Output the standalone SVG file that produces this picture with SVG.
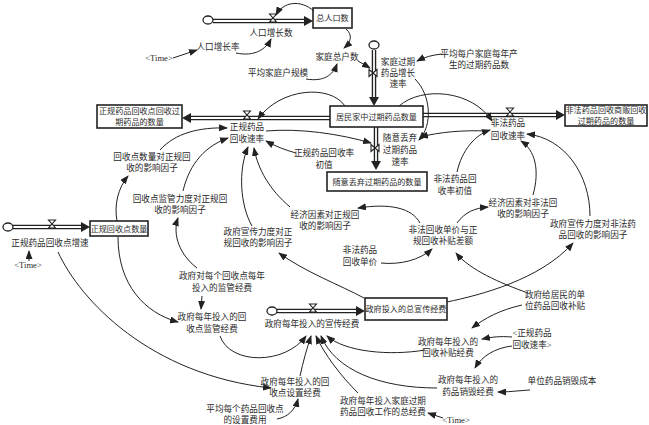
<svg xmlns="http://www.w3.org/2000/svg" width="649" height="425" viewBox="0 0 649 425">
<style>
.t{font-family:"Liberation Serif","Noto Sans CJK SC",serif;font-size:8.6px;text-anchor:middle;fill:#2a2a2a}
.bt{font-size:8.1px}
.box{fill:#fff;stroke:#222;stroke-width:1.6}
.po{fill:none;stroke:#222;stroke-width:4.5}
.pi{fill:none;stroke:#fff;stroke-width:1.8}
.ph{fill:#222}
.valve{fill:#fff;stroke:#222;stroke-width:1.1}
.cloud{fill:#fff;stroke:#222;stroke-width:1.3}
.c{fill:none;stroke:#222;stroke-width:1;marker-end:url(#ah)}
</style>
<defs>
<marker id="ah" markerUnits="userSpaceOnUse" markerWidth="9" markerHeight="7" refX="8" refY="3.5" orient="auto">
<path d="M0,0 L9,3.5 L0,7 z" fill="#222"/>
</marker>
<path id="vh" d="M-3.5,-5 L3.5,-5 L-3.5,3 L3.5,3 Z"/>
<path id="vv" d="M-5,-3.5 L-5,3.5 L3,-3.5 L3,3.5 Z"/>
</defs>
<rect width="649" height="425" fill="#fff"/>

<g id="pipes">
<path class="po" d="M213,21 H306"/><path class="pi" d="M213,21 H306"/>
<polygon class="ph" points="304,16 313,21 304,26"/>
<path class="po" d="M374,50 V99"/><path class="pi" d="M374,50 V99"/>
<polygon class="ph" points="369,97 374,106 379,97"/>
<path class="po" d="M330,118 H189"/><path class="pi" d="M330,118 H189"/>
<polygon class="ph" points="191,113 182,118 191,123"/>
<path class="po" d="M423,115 H558"/><path class="pi" d="M423,115 H558"/>
<polygon class="ph" points="556,110 565,115 556,120"/>
<path class="po" d="M376,127 V163"/><path class="pi" d="M376,127 V163"/>
<polygon class="ph" points="371,161 376,170 381,161"/>
<path class="po" d="M13,227 H83"/><path class="pi" d="M13,227 H83"/>
<polygon class="ph" points="81,222 90,227 81,232"/>
<path class="po" d="M277,311 H358"/><path class="pi" d="M277,311 H358"/>
<polygon class="ph" points="356,306 365,311 356,316"/>
</g>

<g id="clouds">
<ellipse class="cloud" cx="208" cy="20" rx="5" ry="4"/>
<ellipse class="cloud" cx="374" cy="45" rx="5" ry="4"/>
<ellipse class="cloud" cx="8" cy="227" rx="5" ry="4"/>
<ellipse class="cloud" cx="272" cy="311" rx="5" ry="4"/>
</g>

<g id="valves">
<use href="#vh" class="valve" x="273" y="19"/>
<use href="#vv" class="valve" x="374" y="73"/>
<use href="#vh" class="valve" x="247" y="116"/>
<use href="#vh" class="valve" x="510" y="113"/>
<use href="#vv" class="valve" x="376" y="148"/>
<use href="#vh" class="valve" x="52" y="225"/>
<use href="#vh" class="valve" x="313" y="309"/>
</g>

<g id="n-total-pop"><rect class="box" x="313" y="8" width="39" height="20"/><text class="t bt" x="332.5" y="21">总人口数</text></g>
<g id="n-pop-growth"><text class="t" x="271" y="36">人口增长数</text></g>
<g id="n-pop-rate"><text class="t" x="218" y="50">人口增长率</text></g>
<g id="n-time1"><text class="t" x="159" y="61">&lt;Time&gt;</text></g>
<g id="n-households"><text class="t" x="337" y="60">家庭总户数</text></g>
<g id="n-avg-house"><text class="t" x="278" y="76">平均家庭户规模</text></g>
<g id="n-house-rate"><text class="t" x="398" y="65">家庭过期<tspan x="398" dy="11">药品增长</tspan><tspan x="398" dy="11">速率</tspan></text></g>
<g id="n-avg-expired"><text class="t" x="479" y="57">平均每户家庭每年产<tspan x="479" dy="11">生的过期药品数</tspan></text></g>
<g id="n-home-stock"><rect class="box" x="330" y="106" width="93" height="21"/><text class="t bt" x="376.5" y="120">居民家中过期药品数量</text></g>
<g id="n-reg-stock"><rect class="box" x="97" y="105" width="85" height="23"/><text class="t bt" x="139.5" y="114">正规药品回收点回收过<tspan x="139.5" dy="11">期药品的数量</tspan></text></g>
<g id="n-ill-stock"><rect class="box" x="565" y="105" width="82" height="21"/><text class="t bt" x="606" y="113">非法药品回收商贩回收<tspan x="606" dy="11">过期药品的数量</tspan></text></g>
<g id="n-reg-rate"><text class="t" x="247" y="130">正规药品<tspan x="247" dy="12">回收速率</tspan></text></g>
<g id="n-ill-rate"><text class="t" x="508" y="126">非法药品<tspan x="508" dy="13">回收速率</tspan></text></g>
<g id="n-discard-rate"><text class="t" x="400" y="141">随意丢弃<tspan x="400" dy="12">过期药品</tspan><tspan x="400" dy="12">速率</tspan></text></g>
<g id="n-discard-stock"><rect class="box" x="327" y="172" width="100" height="19"/><text class="t bt" x="377" y="184.5">随意丢弃过期药品的数量</text></g>
<g id="n-reg-init"><text class="t" x="324" y="156">正规药品回收率<tspan x="324" dy="12">初值</tspan></text></g>
<g id="n-ill-init"><text class="t" x="455" y="182">非法药品回<tspan x="455" dy="12">收率初值</tspan></text></g>
<g id="n-pt-factor"><text class="t" x="152" y="160">回收点数量对正规回<tspan x="152" dy="11">收的影响因子</tspan></text></g>
<g id="n-points"><rect class="box" x="90" y="221" width="58" height="15"/><text class="t bt" x="119" y="231.5">正规回收点数量</text></g>
<g id="n-pt-growth"><text class="t" x="50" y="246">正规药品回收点增速</text></g>
<g id="n-time2"><text class="t" x="28" y="268">&lt;Time&gt;</text></g>
<g id="n-sup-factor"><text class="t" x="180" y="202">回收点监管力度对正规回<tspan x="180" dy="11">收的影响因子</tspan></text></g>
<g id="n-prop-reg"><text class="t" x="258" y="235">政府宣传力度对正<tspan x="258" dy="11">规回收的影响因子</tspan></text></g>
<g id="n-eco-reg"><text class="t" x="325" y="218">经济因素对正规回<tspan x="325" dy="11">收的影响因子</tspan></text></g>
<g id="n-diff"><text class="t" x="443" y="233">非法回收单价与正<tspan x="443" dy="11">规回收补贴差额</tspan></text></g>
<g id="n-eco-ill"><text class="t" x="523" y="206">经济因素对非法回<tspan x="523" dy="11">收的影响因子</tspan></text></g>
<g id="n-prop-ill"><text class="t" x="593" y="227">政府宣传力度对非法药<tspan x="593" dy="11">品回收的影响因子</tspan></text></g>
<g id="n-ill-price"><text class="t" x="360" y="253">非法药品<tspan x="360" dy="12">回收单价</tspan></text></g>
<g id="n-sup-per"><text class="t" x="222" y="279">政府对每个回收点每年<tspan x="222" dy="12">投入的监管经费</tspan></text></g>
<g id="n-sup-fund"><text class="t" x="212" y="320">政府每年投入的回<tspan x="212" dy="12">收点监管经费</tspan></text></g>
<g id="n-prop-stock"><rect class="box" x="365" y="298" width="82" height="22"/><text class="t bt" x="406" y="312">政府投入的总宣传经费</text></g>
<g id="n-prop-flow"><text class="t" x="312" y="327">政府每年投入的宣传经费</text></g>
<g id="n-subsidy-unit"><text class="t" x="555" y="298">政府给居民的单<tspan x="555" dy="11">位药品回收补贴</tspan></text></g>
<g id="n-subsidy-fund"><text class="t" x="448" y="345">政府每年投入的<tspan x="448" dy="11">回收补贴经费</tspan></text></g>
<g id="n-reg-rate-shadow"><text class="t" x="532" y="336">&lt;正规药品<tspan x="532" dy="12">回收速率&gt;</tspan></text></g>
<g id="n-destroy-fund"><text class="t" x="468" y="383">政府每年投入的<tspan x="468" dy="12">药品销毁经费</tspan></text></g>
<g id="n-destroy-cost"><text class="t" x="562" y="384">单位药品销毁成本</text></g>
<g id="n-setup-fund"><text class="t" x="295" y="385">政府每年投入的回<tspan x="295" dy="11">收点设置经费</tspan></text></g>
<g id="n-setup-cost"><text class="t" x="245" y="412">平均每个药品回收点<tspan x="245" dy="11">的设置费用</tspan></text></g>
<g id="n-total-fund"><text class="t" x="383" y="404">政府每年投入家庭过期<tspan x="383" dy="11">药品回收工作的总经费</tspan></text></g>
<g id="n-time3"><text class="t" x="456" y="423">&lt;Time&gt;</text></g>

<g id="connectors">
<path class="c" d="M173,58 L197,50"/>
<path class="c" d="M236,53 C255,57 266,49 271,39"/>
<path class="c" d="M314,11 C300,-1 283,2 276,15"/>
<path class="c" d="M346,29 C353,35 351,42 344,48"/>
<path class="c" d="M306,79 C324,82 333,75 337,64"/>
<path class="c" d="M358,61 L370,68"/>
<path class="c" d="M442,54 C432,55 425,57 417,61"/>
<path class="c" d="M415,79 C431,95 433,125 419,140"/>
<path class="c" d="M345,106 C330,84 280,88 258,119"/>
<path class="c" d="M399,106 C422,86 472,90 492,121"/>
<path class="c" d="M266,131 C300,128 340,134 371,143"/>
<path class="c" d="M488,131 C462,130 440,132 420,137"/>
<path class="c" d="M296,153 C285,150 275,146 266,141"/>
<path class="c" d="M160,150 C175,133 200,127 227,128"/>
<path class="c" d="M117,221 C114,205 118,188 128,176"/>
<path class="c" d="M183,191 C188,170 200,148 228,138"/>
<path class="c" d="M252,226 C240,205 238,170 248,147"/>
<path class="c" d="M290,207 C270,190 258,170 254,148"/>
<path class="c" d="M420,223 C412,208 390,203 358,208"/>
<path class="c" d="M457,223 C465,212 475,208 488,207"/>
<path class="c" d="M381,263 C400,265 420,260 432,249"/>
<path class="c" d="M528,293 C500,283 470,270 456,253"/>
<path class="c" d="M447,302 C480,295 540,280 573,243"/>
<path class="c" d="M364,298 C340,285 305,272 279,253"/>
<path class="c" d="M197,268 C180,255 172,235 178,218"/>
<path class="c" d="M202,296 L201,309"/>
<path class="c" d="M118,237 C118,285 145,313 178,322"/>
<path class="c" d="M58,252 C80,300 150,375 271,388"/>
<path class="c" d="M220,336 C230,365 285,365 306,336"/>
<path class="c" d="M300,376 C303,362 307,348 311,336"/>
<path class="c" d="M358,393 C340,375 325,355 316,336"/>
<path class="c" d="M437,388 C380,388 335,370 321,336"/>
<path class="c" d="M425,350 C390,356 345,352 327,336"/>
<path class="c" d="M522,305 C500,310 485,318 472,328"/>
<path class="c" d="M512,337 C500,336 492,337 482,339"/>
<path class="c" d="M512,346 C495,348 482,356 475,368"/>
<path class="c" d="M530,390 C515,391 508,392 498,392"/>
<path class="c" d="M443,418 L428,413"/>
<path class="c" d="M277,419 C288,417 295,410 298,399"/>
<path class="c" d="M29,261 L29,251"/>
<path class="c" d="M457,172 C462,150 475,135 490,130"/>
<path class="c" d="M533,195 C540,170 535,150 521,141"/>
<path class="c" d="M590,216 C590,175 565,138 527,134"/>
</g>
</svg>
